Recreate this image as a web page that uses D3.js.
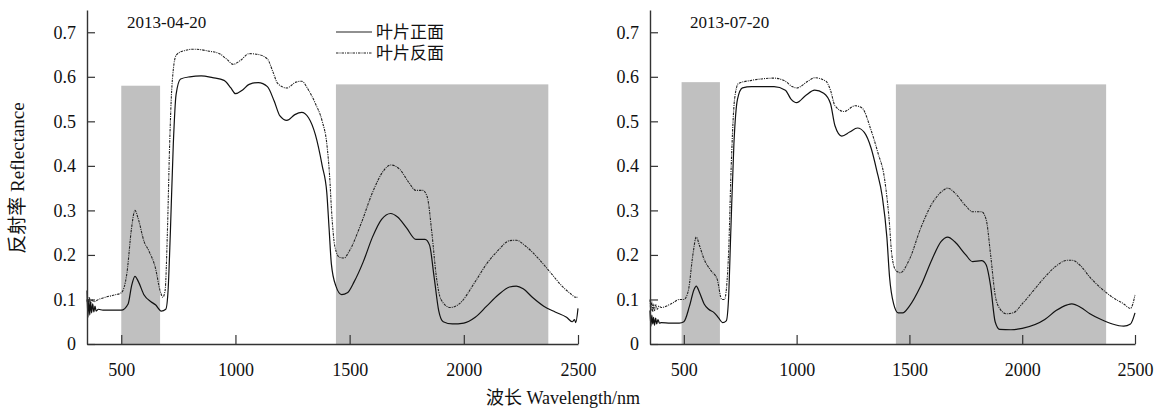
<!DOCTYPE html>
<html>
<head>
<meta charset="utf-8">
<script src="https://cdn.jsdelivr.net/npm/d3@7"></script>
<style>
  body { margin: 0; background: #fff; }
  text { font-family: "Liberation Serif", "Noto Sans CJK SC", serif; fill: #111; }
  .tick text { font-family: "Liberation Serif", "Times New Roman", serif !important; }
</style>
</head>
<body>
<svg id="chart" width="1163" height="411"></svg>
<script>
// wavelength (nm) / reflectance pairs
var front0420 = [[350,0.12],[354,0.06],[358,0.1],[362,0.065],[366,0.095],[370,0.07],[375,0.09],[380,0.072],[385,0.085],[390,0.074],[400,0.078],[420,0.076],[460,0.076],[500,0.076],
  [530,0.09],[545,0.13],[560,0.152],[575,0.14],[600,0.11],[630,0.095],[650,0.088],[675,0.074],[695,0.078],[705,0.12],[715,0.25],[728,0.45],[740,0.56],[760,0.595],
  [800,0.6],[850,0.602],[900,0.598],[950,0.592],[980,0.575],[1000,0.562],[1030,0.57],[1060,0.583],[1100,0.587],[1140,0.578],[1170,0.545],[1195,0.512],[1225,0.502],
  [1260,0.515],[1290,0.52],[1320,0.508],[1350,0.47],[1380,0.4],[1400,0.34],[1410,0.26],[1420,0.18],[1440,0.13],[1465,0.111],[1490,0.115],[1520,0.14],[1560,0.185],
  [1600,0.24],[1640,0.28],[1680,0.293],[1710,0.285],[1750,0.26],[1790,0.235],[1830,0.235],[1850,0.222],[1870,0.15],[1890,0.075],[1910,0.05],[1950,0.045],
  [2000,0.047],[2050,0.06],[2100,0.085],[2150,0.11],[2200,0.128],[2230,0.13],[2260,0.124],[2300,0.105],[2350,0.085],[2400,0.072],[2450,0.06],[2475,0.05],
  [2485,0.055],[2490,0.048],[2500,0.08]];
var back0420 = [[350,0.1],[355,0.085],[360,0.105],[365,0.09],[370,0.1],[380,0.095],[400,0.1],[430,0.105],[470,0.11],[500,0.115],[525,0.16],[545,0.26],[560,0.3],
  [575,0.28],[600,0.23],[620,0.21],[650,0.17],[670,0.12],[682,0.105],[692,0.12],[702,0.25],[712,0.45],[722,0.58],[740,0.648],[770,0.658],[820,0.662],[880,0.658],
  [930,0.652],[965,0.638],[990,0.628],[1020,0.636],[1060,0.652],[1100,0.65],[1140,0.64],[1165,0.61],[1185,0.585],[1225,0.575],[1265,0.588],[1290,0.59],
  [1320,0.57],[1350,0.54],[1380,0.5],[1400,0.45],[1412,0.38],[1422,0.29],[1435,0.22],[1455,0.195],[1475,0.193],[1500,0.21],[1550,0.27],[1600,0.34],[1650,0.39],
  [1680,0.402],[1720,0.392],[1760,0.362],[1790,0.345],[1820,0.345],[1840,0.33],[1860,0.25],[1880,0.15],[1900,0.1],[1940,0.082],[1980,0.09],[2050,0.14],
  [2100,0.18],[2150,0.21],[2200,0.232],[2230,0.233],[2270,0.22],[2330,0.19],[2380,0.16],[2430,0.13],[2470,0.112],[2490,0.105],[2500,0.105]];
var front0720 = [[350,0.075],[354,0.04],[358,0.065],[362,0.045],[366,0.06],[370,0.042],[375,0.058],[380,0.045],[385,0.055],[392,0.047],[400,0.048],[440,0.047],
  [480,0.047],[500,0.05],[525,0.085],[545,0.122],[555,0.13],[570,0.115],[590,0.09],[610,0.078],[635,0.07],[655,0.058],[672,0.048],[688,0.052],[698,0.1],
  [708,0.25],[722,0.45],[738,0.55],[760,0.575],[800,0.578],[900,0.578],[950,0.57],[975,0.55],[1000,0.542],[1040,0.558],[1080,0.57],[1120,0.563],[1150,0.54],
  [1170,0.49],[1200,0.467],[1235,0.476],[1270,0.485],[1300,0.475],[1330,0.44],[1355,0.39],[1380,0.33],[1400,0.24],[1412,0.15],[1430,0.09],[1450,0.07],
  [1470,0.07],[1500,0.085],[1550,0.13],[1600,0.19],[1640,0.23],[1670,0.24],[1700,0.23],[1750,0.2],[1780,0.185],[1820,0.187],[1840,0.178],[1860,0.13],
  [1880,0.05],[1900,0.033],[1950,0.032],[2000,0.035],[2100,0.055],[2150,0.075],[2200,0.088],[2220,0.09],[2260,0.082],[2300,0.068],[2350,0.055],[2400,0.045],
  [2450,0.04],[2480,0.045],[2500,0.07]];
var back0720 = [[350,0.1],[354,0.075],[358,0.095],[362,0.072],[366,0.09],[370,0.075],[376,0.088],[382,0.078],[390,0.085],[400,0.082],[450,0.092],[480,0.1],
  [500,0.1],[520,0.12],[540,0.2],[555,0.24],[570,0.22],[590,0.19],[620,0.165],[648,0.145],[668,0.1],[680,0.1],[698,0.2],[710,0.4],[725,0.55],[742,0.585],
  [800,0.592],[900,0.597],[950,0.59],[980,0.578],[1000,0.575],[1050,0.59],[1080,0.598],[1130,0.59],[1150,0.57],[1170,0.535],[1210,0.522],[1260,0.535],
  [1290,0.53],[1330,0.48],[1360,0.43],[1390,0.37],[1410,0.28],[1422,0.2],[1440,0.165],[1460,0.16],[1500,0.19],[1550,0.26],[1600,0.315],[1650,0.345],
  [1670,0.35],[1700,0.34],[1750,0.31],[1780,0.297],[1820,0.297],[1840,0.28],[1860,0.2],[1880,0.11],[1900,0.08],[1930,0.068],[1960,0.07],[2000,0.09],
  [2050,0.12],[2100,0.15],[2150,0.175],[2200,0.188],[2220,0.188],[2260,0.175],[2300,0.15],[2350,0.125],[2400,0.105],[2450,0.09],[2480,0.08],[2500,0.11]];

// grey bands [start nm, end nm, top reflectance]
var bands0420 = [[500,670,0.58],[1440,2370,0.583]];
var bands0720 = [[490,660,0.588],[1440,2372,0.583]];

var yTicks = [0,0.1,0.2,0.3,0.4,0.5,0.6,0.7];
var xTicks = [500,1000,1500,2000,2500];
var legendNames = ["叶片正面","叶片反面"];

var panels = [
  {date:"2013-04-20", front:front0420, back:back0420, bands:bands0420, x0:87, x1:578, legend:true},
  {date:"2013-07-20", front:front0720, back:back0720, bands:bands0720, x0:650, x1:1135, legend:false}
];

var serif = '"Liberation Serif", "Noto Sans CJK SC", serif';
var svg = d3.select("#chart");
var plotTop = 10, plotBottom = 344;

var yScale = d3.scaleLinear().domain([0,0.75]).range([plotBottom, plotTop]);

panels.forEach(function(p){
  var xScale = d3.scaleLinear().domain([350,2500]).range([p.x0, p.x1]);
  var g = svg.append("g");

  g.selectAll("rect.band")
    .data(p.bands)
    .enter().append("rect")
      .attr("x", function(d){ return xScale(d[0]); })
      .attr("y", function(d){ return yScale(d[2]); })
      .attr("width", function(d){ return xScale(d[1]) - xScale(d[0]); })
      .attr("height", function(d){ return yScale(0) - yScale(d[2]); })
      .attr("fill", "#c0c0c0");

  var line = d3.line()
    .x(function(d){ return xScale(d[0]); })
    .y(function(d){ return yScale(d[1]); })
    .curve(d3.curveMonotoneX);

  g.append("path").attr("d", line(p.back))
    .attr("fill","none").attr("stroke","#222").attr("stroke-width",1.1)
    .attr("stroke-dasharray","2.5,1,1,1");
  g.append("path").attr("d", line(p.front))
    .attr("fill","none").attr("stroke","#111").attr("stroke-width",1.2);

  var yAxis = d3.axisLeft(yScale).tickValues(yTicks).tickSize(-8).tickSizeOuter(0).tickPadding(11)
    .tickFormat(function(d){ return d === 0 ? "0" : d3.format(".1f")(d); });
  var ya = g.append("g").attr("transform","translate(" + p.x0 + ",0)").call(yAxis);

  var xAxis = d3.axisBottom(xScale).tickValues(xTicks).tickSize(-9).tickSizeOuter(0).tickPadding(19)
    .tickFormat(d3.format("d"));
  var xa = g.append("g").attr("transform","translate(0," + plotBottom + ")").call(xAxis);

  [ya, xa].forEach(function(a){
    a.attr("font-family", serif).attr("font-size", 18);
    a.selectAll("text").style("font-size","18px").attr("fill","#111");
    a.selectAll("line").attr("stroke","#333").attr("stroke-width",1.2);
    a.select(".domain").attr("stroke","#333").attr("stroke-width",1.4);
  });

  g.append("text").attr("x", p.x0 + 40).attr("y", 28)
    .style("font-family", serif).style("font-size","17px").text(p.date);

  if (p.legend){
    var lg = g.selectAll("g.leg").data(legendNames).enter().append("g")
      .attr("transform", function(d,i){ return "translate(336," + (32 + i*21) + ")"; });
    lg.append("line").attr("x1",0).attr("x2",36).attr("y1",0).attr("y2",0)
      .attr("stroke","#222").attr("stroke-width", function(d,i){ return i ? 1.1 : 1.2; })
      .attr("stroke-dasharray", function(d,i){ return i ? "2.5,1,1,1" : null; });
    lg.append("text").attr("x",40).attr("y",6).style("font-family", serif).style("font-size","17px")
      .text(function(d){ return d; });
  }
});

svg.append("text").attr("transform","translate(24,178) rotate(-90)")
  .attr("text-anchor","middle").style("font-family", serif).style("font-size","19px").text("反射率 Reflectance");
svg.append("text").attr("x",563).attr("y",404)
  .attr("text-anchor","middle").style("font-family", serif).style("font-size","18px").text("波长 Wavelength/nm");
</script>
</body>
</html>
